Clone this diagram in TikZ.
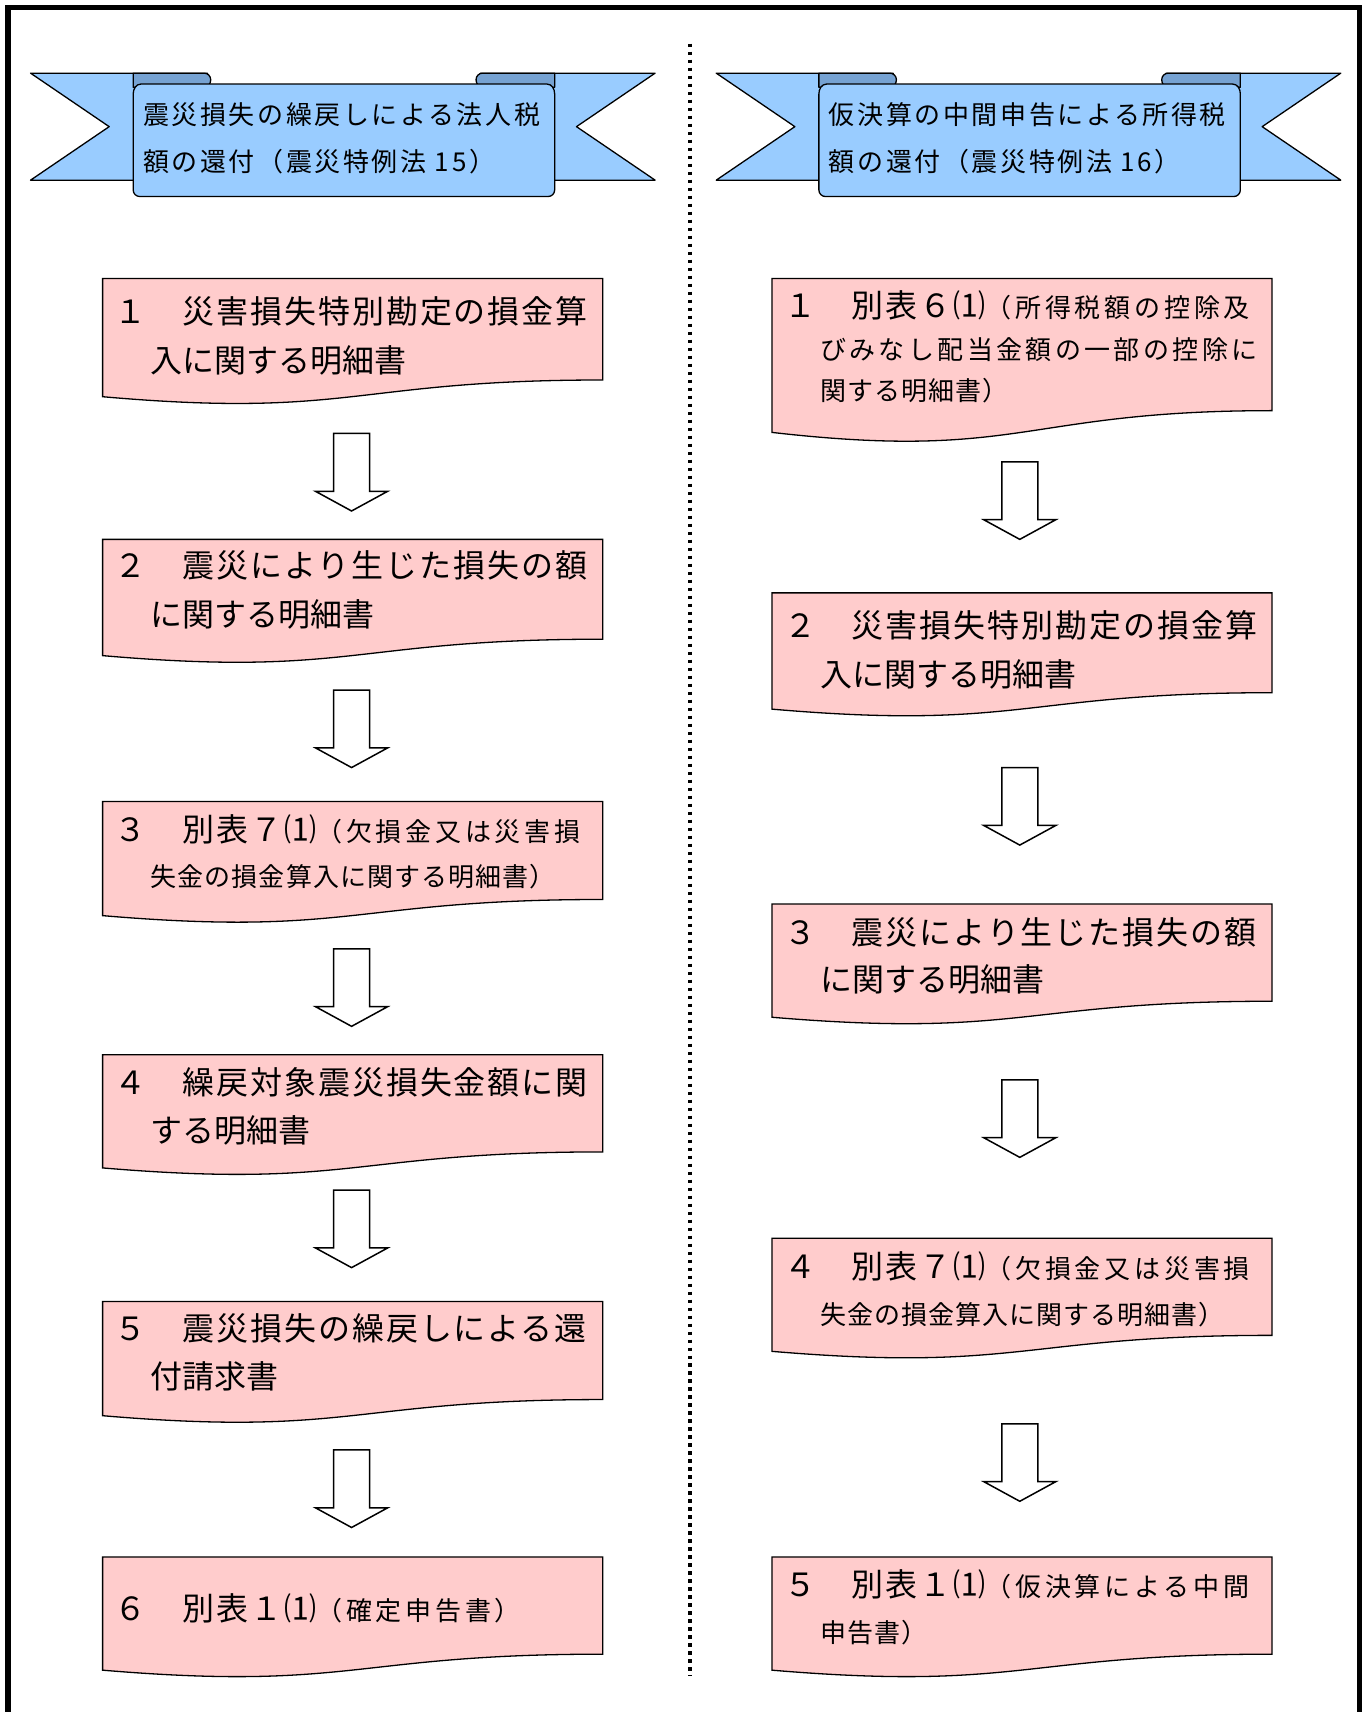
\documentclass[tikz,border=0pt]{standalone}
\usepackage{fontspec}
\usepackage{tikz}

\newfontfamily\jpfont{Noto Sans CJK JP}
\newcommand\bigjp{\jpfont\fontsize{32}{38}\selectfont}
\newcommand\bigwide{\bigjp\addfontfeature{LetterSpace=6}}
\newcommand\smjp{\fontsize{26}{30}\selectfont\addfontfeature{LetterSpace=4}}
\newcommand\smwide{\fontsize{26}{30}\selectfont\addfontfeature{LetterSpace=14.5}}
\newcommand\titlejp{\jpfont\fontsize{26}{30}\selectfont\addfontfeature{LetterSpace=10}}

\definecolor{ribbonblue}{RGB}{153,204,255}
\definecolor{ribbonfold}{RGB}{118,162,210}
\definecolor{docpink}{RGB}{255,204,204}

\tikzset{
  frame/.style={line width=5.5pt, line join=miter},
  divider/.style={line width=3.5pt, dash pattern=on 3.5pt off 4.5pt},
  docbox/.style={draw=black, fill=docpink, line width=1.3pt},
  ribbon/.style={draw=black, fill=ribbonblue, line width=1.3pt, line join=round},
  fold/.style={draw=black, fill=ribbonfold, line width=1.3pt, line join=round},
  blockarrow/.style={draw=black, fill=white, line width=1.5pt},
  big/.style={anchor=west, inner sep=0pt, font=\bigjp},
  bigfull/.style={anchor=west, inner sep=0pt, font=\bigwide},
  small/.style={anchor=west, inner sep=0pt, font=\jpfont\smjp},
  smallfull/.style={anchor=west, inner sep=0pt, font=\jpfont\fontsize{26}{30}\selectfont\addfontfeature{LetterSpace=13}},
  title/.style={anchor=west, inner sep=0pt, font=\titlejp},
}

% document shape: name, left x, top y, height
\newcommand\docshape[4]{%
  \coordinate (#1) at (#2,#3);
  \draw[docbox] (#2,#3) -- ({#2+458},#3) -- ({#2+458},{#3+0.802*#4})
    .. controls ({#2+229},{#3+0.802*#4}) and ({#2+229},{#3+1.1075*#4}) .. (#2,{#3+0.934*#4}) -- cycle;}

% ribbon banner
\newcommand\ribbonshape{%
  \draw[ribbon] (28,67) -- (190,67) -- (190,165) -- (28,165) -- (100,116) -- cycle;
  \draw[ribbon] (600,67) -- (440,67) -- (440,165) -- (600,165) -- (528,116) -- cycle;
  \draw[fold] (122,80) -- (122,67) -- (187,67) to[out=0,in=90] (193,73) to[out=-90,in=0] (187,80) -- cycle;
  \draw[fold] (508,80) -- (508,67) -- (442,67) to[out=180,in=90] (436,73) to[out=-90,in=180] (442,80) -- cycle;
  \draw[ribbon] (122,86) to[out=90,in=180] (129,77) -- (501,77) to[out=0,in=90] (508,86)
    -- (508,174) to[out=-90,in=0] (502,180) -- (128,180) to[out=180,in=-90] (122,174) -- cycle;}

\begin{document}
\begin{tikzpicture}[x=1.092pt,y=-1.092pt]
\useasboundingbox (0,0) rectangle (1252,1568);

% frame and divider
\draw[frame] (7.5,1580) -- (7.5,7) -- (1245,7) -- (1245,1580);
\draw[divider] (632,40) -- (632,1535);

% banners
\ribbonshape
\begin{scope}[shift={(628,0)}]
\ribbonshape
\end{scope}
\node[title] (t1a) at (131,105) {震災損失の繰戻しによる法人税};
\node[title] (t1b) at (131,148) {額の還付（震災特例法 15）};
\node[title] (t2a) at (759,105) {仮決算の中間申告による所得税};
\node[title] (t2b) at (759,148) {額の還付（震災特例法 16）};

% left column
\docshape{L1}{94}{255}{116}
\docshape{L2}{94}{494}{114}
\docshape{L3}{94}{734}{112}
\docshape{L4}{94}{966}{111}
\docshape{L5}{94}{1192}{112}
\docshape{L6}{94}{1426}{111}

\node[bigfull] (l1a) at (105,285) {１　災害損失特別勘定の損金算};
\node[big] (l1b) at (138,330) {入に関する明細書};
\node[bigfull] (l2a) at (105,518) {２　震災により生じた損失の額};
\node[big] (l2b) at (138,563) {に関する明細書};
\node[bigfull] (l3a) at (105,760) {３　別表７⑴{\smwide （欠損金又は災害損}};
\node[small] (l3b) at (138,803) {失金の損金算入に関する明細書）};
\node[bigfull] (l4a) at (105,991) {４　繰戻対象震災損失金額に関};
\node[big] (l4b) at (138,1035) {する明細書};
\node[bigfull] (l5a) at (105,1217) {５　震災損失の繰戻しによる還};
\node[big] (l5b) at (138,1261) {付請求書};
\node[bigfull] (l6a) at (105,1473) {６　別表１⑴{\smwide （確定申告書）}};

% right column
\docshape{R1}{707}{255}{151}
\docshape{R2}{707}{543}{114}
\docshape{R3}{707}{828}{111}
\docshape{R4}{707}{1134}{111}
\docshape{R5}{707}{1426}{111}

\node[bigfull] (r1a) at (718,280) {１　別表６⑴{\smwide （所得税額の控除及}};
\node[smallfull] (r1b) at (751,320) {びみなし配当金額の一部の控除に};
\node[small] (r1c) at (751,358) {関する明細書）};
\node[bigfull] (r2a) at (718,573) {２　災害損失特別勘定の損金算};
\node[big] (r2b) at (751,618) {入に関する明細書};
\node[bigfull] (r3a) at (718,854) {３　震災により生じた損失の額};
\node[big] (r3b) at (751,897) {に関する明細書};
\node[bigfull] (r4a) at (718,1160) {４　別表７⑴{\smwide （欠損金又は災害損}};
\node[small] (r4b) at (751,1204) {失金の損金算入に関する明細書）};
\node[bigfull] (r5a) at (718,1451) {５　別表１⑴{\smwide （仮決算による中間}};
\node[small] (r5b) at (751,1495) {申告書）};

% block arrows
\foreach \x/\y in {322/397, 322/632, 322/869, 322/1090, 322/1328,
                   934/423, 934/703, 934/989, 934/1304}
  \draw[blockarrow] ({\x-16.5},\y) -- ({\x+16.5},\y) -- ({\x+16.5},{\y+53}) -- ({\x+33},{\y+53})
    -- (\x,{\y+71}) -- ({\x-33},{\y+53}) -- ({\x-16.5},{\y+53}) -- cycle;
\end{tikzpicture}
\end{document}
